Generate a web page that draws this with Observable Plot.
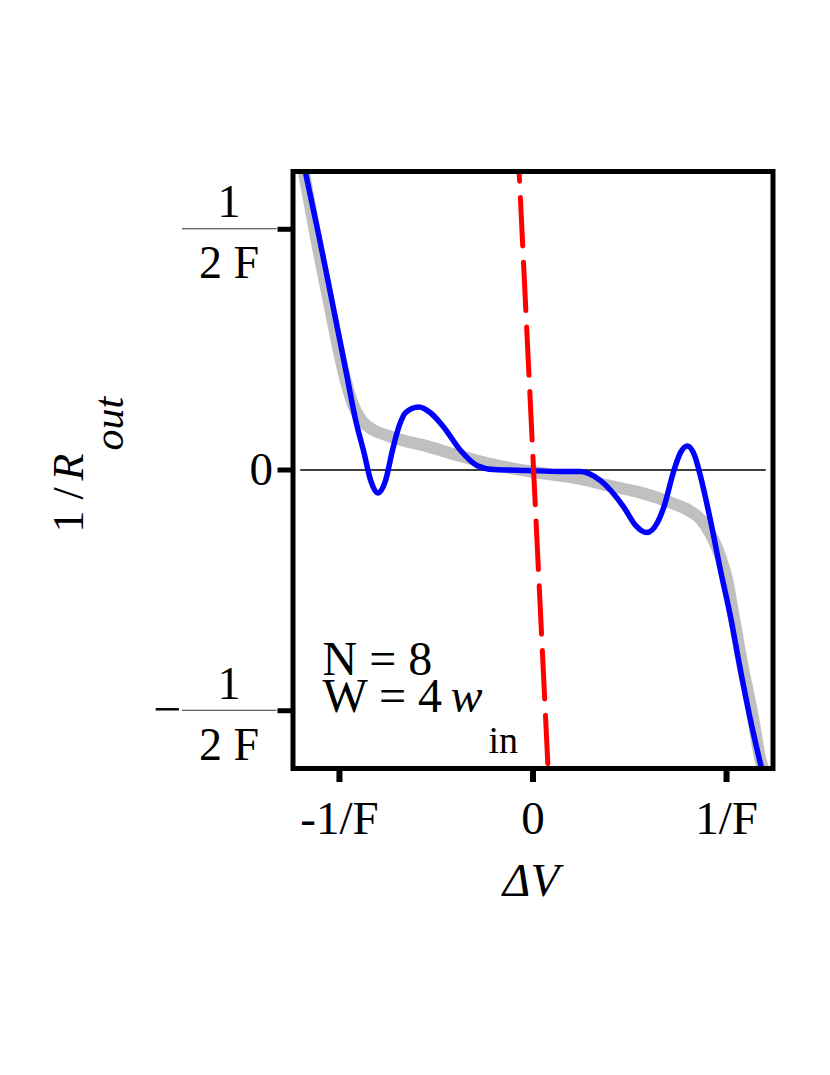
<!DOCTYPE html>
<html><head><meta charset="utf-8">
<script src="https://cdn.jsdelivr.net/npm/d3@7"></script>
<script src="https://cdn.jsdelivr.net/npm/@observablehq/plot@0.6"></script>
<style>html,body{margin:0;padding:0;background:#fff}</style>
</head><body><div id="chart"></div>
<script>
// ---- data ----
const grayX = [-1.195,-1.182,-1.122,-1.053,-0.981,-0.943,-0.917,-0.881,-0.830,-0.762,-0.711,-0.545,-0.375,-0.204,-0.028,0.142,0.209,0.385,0.556,0.726,0.814,0.870,0.920,0.969,1.004,1.038,1.081,1.133,1.176,1.207];
const grayY = [0.643,0.615,0.484,0.346,0.207,0.151,0.124,0.101,0.084,0.073,0.066,0.049,0.029,0.011,-0.002,-0.012,-0.016,-0.032,-0.047,-0.070,-0.086,-0.104,-0.135,-0.181,-0.230,-0.306,-0.403,-0.506,-0.603,-0.641];
const blueX = [-1.189,-1.174,-1.105,-1.036,-0.967,-0.916,-0.872,-0.840,-0.802,-0.762,-0.726,-0.691,-0.659,-0.590,-0.530,-0.461,-0.375,-0.288,-0.203,-0.030,0.142,0.245,0.349,0.469,0.530,0.587,0.643,0.676,0.728,0.762,0.798,0.835,0.866,0.917,0.969,1.021,1.072,1.124,1.190];
const blueY = [0.643,0.615,0.484,0.346,0.207,0.103,0.034,-0.020,-0.048,-0.022,0.041,0.092,0.119,0.131,0.119,0.089,0.041,0.009,0.001,-0.001,-0.003,-0.003,-0.022,-0.077,-0.115,-0.130,-0.109,-0.077,-0.001,0.036,0.050,0.030,-0.014,-0.105,-0.209,-0.306,-0.416,-0.520,-0.635];
const redX = [-0.073, 0.079];
const redY = [0.63, -0.63];
const zeroX = [-1.2, 1.2];
const zeroY = [0, 0];
const xTicks = [-1, 0, 1];
const xTickLabels = ["-1/F", "0", "1/F"];
const yTicks = [-0.5, 0, 0.5];
const yTickLabels = ["", "0", ""];
const fracTicks = [0.5, -0.5];
const fracSign = ["", "\u2212"];
const fracNum = ["1", "1"];
const fracDen = ["2 F", "2 F"];
const xLabel = ["\u0394V"];
const yLabelMain = ["1 / "];
const yLabelVar = ["R"];
const yLabelSub = ["out"];
const noteN = ["N = 8"];
const noteW = ["W = 4"];
const noteVar = ["w"];
const noteSub = ["in"];

// ---- tables ----
const gray = grayX.map((x, i) => ({x, y: grayY[i]}));
const blue = blueX.map((x, i) => ({x, y: blueY[i]}));
const red = redX.map((x, i) => ({x, y: redY[i]}));
const zero = zeroX.map((x, i) => ({x, y: zeroY[i]}));

const FONT = "'Liberation Serif', 'Times New Roman', serif";

const plot = Plot.plot({
  width: 830, height: 1075,
  marginTop: 171, marginBottom: 307, marginLeft: 292.5, marginRight: 57.5,
  x: {domain: [-1.24, 1.24], label: null},
  y: {domain: [-0.62, 0.62], label: null},
  style: {fontFamily: FONT, background: "white", color: "black", fontSize: "46px", overflow: "visible"},
  marks: [
    Plot.line(zero, {x: "x", y: "y", stroke: "black", strokeWidth: 1.5}),
    Plot.line(gray, {x: "x", y: "y", stroke: "#c0c0c0", strokeWidth: 12, curve: "monotone-x", clip: true}),
    Plot.line(blue, {x: "x", y: "y", stroke: "#0000ff", strokeWidth: 5.5, curve: "monotone-x", clip: true}),
    Plot.line(red, {x: "x", y: "y", stroke: "#ff0000", strokeWidth: 5, strokeDasharray: "48.5,16.3", strokeDashoffset: 34, clip: true}),
    Plot.axisX({ticks: xTicks, tickFormat: d => xTickLabels[xTicks.indexOf(d)], tickSize: 14, tickPadding: 18, strokeWidth: 6, fontSize: 47, fontFamily: FONT, label: null}),
    Plot.axisY({ticks: yTicks, tickFormat: d => yTickLabels[yTicks.indexOf(d)], tickSize: 15, tickPadding: 5, strokeWidth: 5, fontSize: 47, fontFamily: FONT, label: null}),
    Plot.text(fracTicks, {y: d => d, text: (d, i) => fracNum[i], frameAnchor: "left", dx: -64, dy: -12, lineAnchor: "bottom", textAnchor: "middle", fontSize: 46, fontFamily: FONT}),
    Plot.text(fracTicks, {y: d => d, text: (d, i) => fracDen[i], frameAnchor: "left", dx: -64, dy: 49, lineAnchor: "bottom", textAnchor: "middle", fontSize: 46, fontFamily: FONT}),
    Plot.text(fracTicks, {y: d => d, text: (d, i) => fracSign[i], frameAnchor: "left", dx: -126, dy: -1, lineAnchor: "middle", textAnchor: "middle", fontSize: 50, fontFamily: FONT}),
    Plot.text(xLabel, {text: d => d, frameAnchor: "bottom", dx: -2, dy: 127, lineAnchor: "bottom", textAnchor: "middle", fontStyle: "italic", fontSize: 47, fontFamily: FONT}),
    Plot.text(yLabelMain, {text: d => d, frameAnchor: "left", rotate: -90, textAnchor: "start", lineAnchor: "bottom", dx: -210.5, dy: 62.5, fontSize: 44, fontFamily: FONT}),
    Plot.text(yLabelVar, {text: d => d, frameAnchor: "left", rotate: -90, textAnchor: "end", lineAnchor: "bottom", dx: -210.5, dy: -16.5, fontStyle: "italic", fontSize: 44, fontFamily: FONT}),
    Plot.text(yLabelSub, {text: d => d, frameAnchor: "left", rotate: -90, textAnchor: "start", lineAnchor: "bottom", dx: -170.5, dy: -19.5, fontStyle: "italic", fontSize: 42, fontFamily: FONT}),
    Plot.text(noteN, {text: d => d, frameAnchor: "bottom-left", dx: 29.5, dy: -94, textAnchor: "start", lineAnchor: "bottom", fontSize: 48, fontFamily: FONT}),
    Plot.text(noteW, {text: d => d, frameAnchor: "bottom-left", dx: 29.5, dy: -57, textAnchor: "start", lineAnchor: "bottom", fontSize: 48, fontFamily: FONT}),
    Plot.text(noteVar, {text: d => d, frameAnchor: "bottom-left", dx: 157.5, dy: -57, textAnchor: "start", lineAnchor: "bottom", fontStyle: "italic", fontSize: 48, fontFamily: FONT}),
    Plot.text(noteSub, {text: d => d, frameAnchor: "bottom-left", dx: 195.5, dy: -16, textAnchor: "start", lineAnchor: "bottom", fontSize: 38, fontFamily: FONT}),
    Plot.frame({stroke: "black", strokeWidth: 5})
  ]
});
document.getElementById("chart").appendChild(plot);

// fraction bars for the y tick labels, positioned with the plot's own y scale
const ys = plot.scale("y");
const xr = plot.scale("x").range;
const svg = d3.select(plot);
fracTicks.forEach(v => {
  const yy = ys.apply(v);
  svg.append("line")
    .attr("x1", xr[0] - 110.5).attr("x2", xr[0] - 16)
    .attr("y1", yy).attr("y2", yy)
    .attr("stroke", "#333").attr("stroke-width", 1.2);
});
</script>
</body></html>
